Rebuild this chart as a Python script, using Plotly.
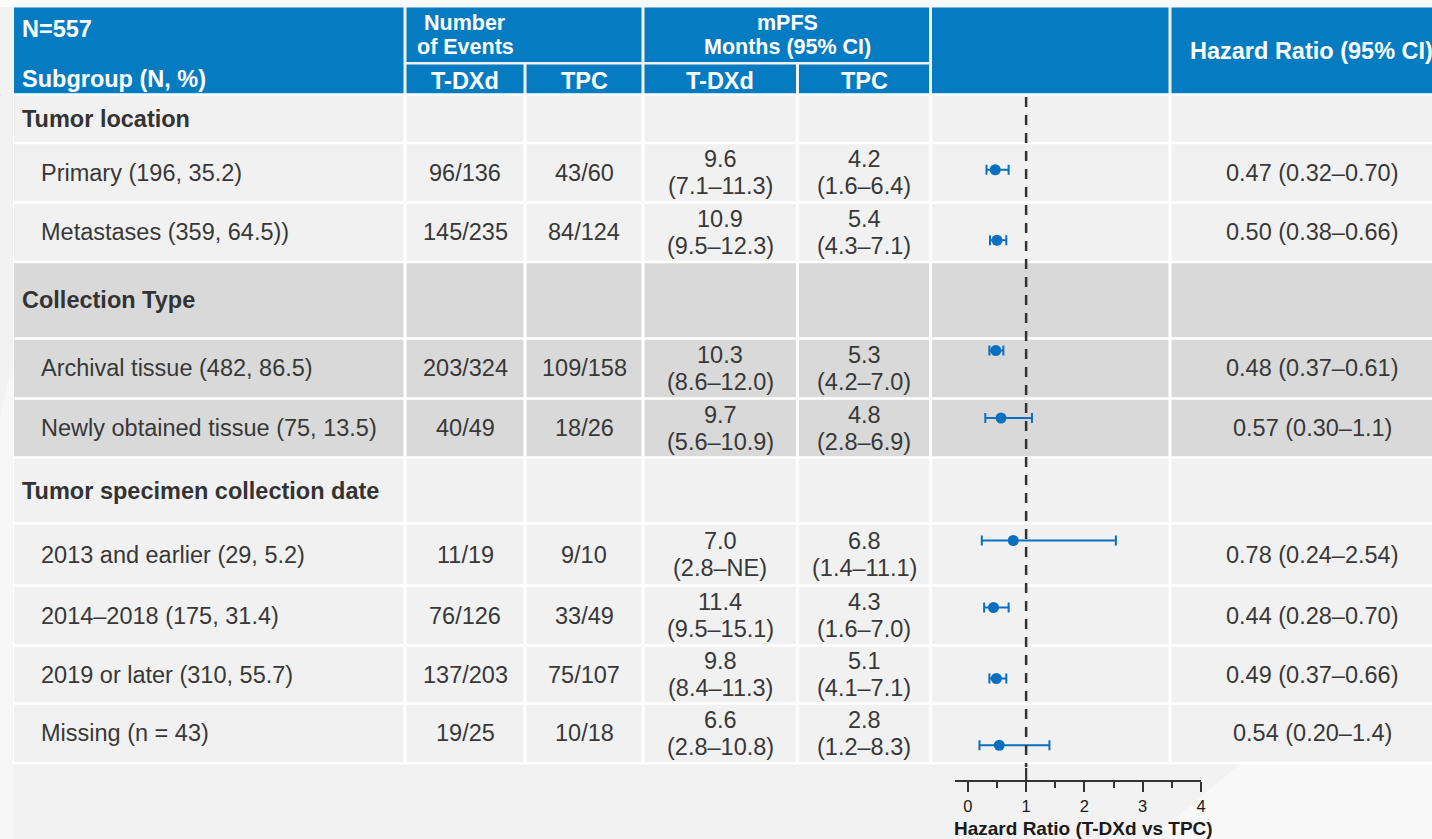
import plotly.graph_objects as go

# ---- data -------------------------------------------------------------
row_labels = [
    "Tumor location",
    "Primary (196, 35.2)",
    "Metastases (359, 64.5))",
    "Collection Type",
    "Archival tissue (482, 86.5)",
    "Newly obtained tissue (75, 13.5)",
    "Tumor specimen collection date",
    "2013 and earlier (29, 5.2)",
    "2014\u20132018 (175, 31.4)",
    "2019 or later (310, 55.7)",
    "Missing (n = 43)",
]
is_group = [True, False, False, True, False, False, True, False, False, False, False]

events_tdxd = ["", "96/136", "145/235", "", "203/324", "40/49", "", "11/19", "76/126", "137/203", "19/25"]
events_tpc = ["", "43/60", "84/124", "", "109/158", "18/26", "", "9/10", "33/49", "75/107", "10/18"]

mpfs_tdxd = ["", "9.6", "10.9", "", "10.3", "9.7", "", "7.0", "11.4", "9.8", "6.6"]
mpfs_tdxd_ci = ["", "7.1\u201311.3", "9.5\u201312.3", "", "8.6\u201312.0", "5.6\u201310.9", "",
                "2.8\u2013NE", "9.5\u201315.1", "8.4\u201311.3", "2.8\u201310.8"]
mpfs_tpc = ["", "4.2", "5.4", "", "5.3", "4.8", "", "6.8", "4.3", "5.1", "2.8"]
mpfs_tpc_ci = ["", "1.6\u20136.4", "4.3\u20137.1", "", "4.2\u20137.0", "2.8\u20136.9", "",
               "1.4\u201311.1", "1.6\u20137.0", "4.1\u20137.1", "1.2\u20138.3"]

hr = ["", "0.47", "0.50", "", "0.48", "0.57", "", "0.78", "0.44", "0.49", "0.54"]
hr_low = ["", "0.32", "0.38", "", "0.37", "0.30", "", "0.24", "0.28", "0.37", "0.20"]
hr_high = ["", "0.70", "0.66", "", "0.61", "1.1", "", "2.54", "0.70", "0.66", "1.4"]

hr_ticks = [0, 1, 2, 3, 4]

# ---- layout helpers (pixel -> paper) ----------------------------------
W, H = 1432, 839


def px(x):
    return x / W


def py(y):
    return 1 - y / H


BLUE = "#057cc2"
LIGHT = "#f1f1f1"
DARK = "#d9d9d9"
TEXT = "#383838"
FONT = "Liberation Sans, Arial, sans-serif"
FS = 23.5

# row separators (pixel y) and column edges (pixel x)
row_edges = [94.5, 143, 202.5, 262, 338.5, 398.5, 457.5, 523.5, 585.5, 645.5, 703.5, 763]
col_edges = [13, 405, 525, 643, 797.5, 930.5, 1170, 1445]
row_fill = [LIGHT, LIGHT, LIGHT, DARK, DARK, DARK, LIGHT, LIGHT, LIGHT, LIGHT, LIGHT]
# vertical placement of each estimate inside its row
marker_nudge = [0, -3, 8, 0, -18, -10, 0, -14, -8, 4, 12]

shapes = []
annotations = []


def rect(x0, y0, x1, y1, color, layer="below"):
    shapes.append(dict(type="rect", xref="paper", yref="paper",
                       x0=px(x0), x1=px(x1), y0=py(y1), y1=py(y0),
                       fillcolor=color, line=dict(width=0), layer=layer))


def text(x, y, s, size=FS, color=TEXT, bold=False, anchor="center"):
    annotations.append(dict(xref="paper", yref="paper", x=px(x), y=py(y),
                            text=f"<b>{s}</b>" if bold else s, showarrow=False,
                            xanchor=anchor, yanchor="middle", borderpad=0,
                            font=dict(family=FONT, size=size, color=color)))


# page background facets
rect(0, 0, W, 7, "#fcfcfc")
shapes.append(dict(type="path", xref="paper", yref="paper",
                   path=f"M {px(1150)} {py(839)} L {px(1240)} {py(764)} L {px(1432)} {py(764)} "
                        f"L {px(1432)} {py(839)} Z",
                   fillcolor="#f8f8f8", line=dict(width=0), layer="below"))
shapes.append(dict(type="path", xref="paper", yref="paper",
                   path=f"M {px(0)} {py(839)} L {px(0)} {py(420)} L {px(13)} {py(360)} "
                        f"L {px(13)} {py(839)} Z",
                   fillcolor="#f7f7f7", line=dict(width=0), layer="below"))

# table white backing (gaps between cells)
rect(13, 93, 1445, 764.5, "#ffffff")

# header cells
g = 1.5
rect(14, 7.5, col_edges[1] - g, 93.3, BLUE)
rect(col_edges[1] + g, 7.5, col_edges[3] - g, 62, BLUE)
rect(col_edges[3] + g, 7.5, col_edges[5] - g, 62, BLUE)
for i in range(1, 5):
    rect(col_edges[i] + g, 64.5, col_edges[i + 1] - g, 93.3, BLUE)
rect(col_edges[5] + g, 7.5, col_edges[6] - g, 93.3, BLUE)
rect(col_edges[6] + g, 7.5, col_edges[7], 93.3, BLUE)

# body cells
for r in range(len(row_labels)):
    y0, y1 = row_edges[r] + 1.3, row_edges[r + 1] - 1.3
    for c in range(len(col_edges) - 1):
        x0 = 14 if c == 0 else col_edges[c] + g
        x1 = col_edges[c + 1] - g if c < len(col_edges) - 2 else col_edges[c + 1]
        rect(x0, y0, x1, y1, row_fill[r])

# header text
WHITE = "#ffffff"
HS2 = 21.5  # two-line group headers
text(21, 29, "N=557", color=WHITE, bold=True, anchor="left")
text(21, 79, "Subgroup (N, %)", color=WHITE, bold=True, anchor="left")
text(465, 23, "Number", size=HS2, color=WHITE, bold=True)
text(465, 47, "of Events", size=HS2, color=WHITE, bold=True)
text(787, 23, "mPFS", size=HS2, color=WHITE, bold=True)
text(787, 47, "Months (95% CI)", size=HS2, color=WHITE, bold=True)
for xc, s in [(465, "T-DXd"), (584, "TPC"), (720, "T-DXd"), (864, "TPC")]:
    text(xc, 81, s, color=WHITE, bold=True)
text(1311, 51, "Hazard Ratio (95% CI)", color=WHITE, bold=True)

# body text
row_mid = [(row_edges[i] + row_edges[i + 1]) / 2 for i in range(len(row_labels))]
for r, label in enumerate(row_labels):
    ym = row_mid[r]
    if is_group[r]:
        text(21, ym, label, color="#333333", bold=True, anchor="left")
        continue
    text(40, ym, label, anchor="left")
    text(465, ym, events_tdxd[r])
    text(584, ym, events_tpc[r])
    text(720, ym - 13.5, mpfs_tdxd[r])
    text(720, ym + 13.5, f"({mpfs_tdxd_ci[r]})")
    text(864, ym - 13.5, mpfs_tpc[r])
    text(864, ym + 13.5, f"({mpfs_tpc_ci[r]})")
    text(1312, ym, f"{hr[r]} ({hr_low[r]}\u2013{hr_high[r]})")

# forest plot
idx = [i for i in range(len(row_labels)) if hr[i]]
xs = [float(hr[i]) for i in idx]
lo = [float(hr_low[i]) for i in idx]
hi = [float(hr_high[i]) for i in idx]
ys = [row_mid[i] + marker_nudge[i] for i in idx]

AXIS_Y = 781
fig = go.Figure()
fig.add_trace(go.Scatter(
    x=xs, y=ys, mode="markers",
    marker=dict(color="#0a6fbf", size=11),
    error_x=dict(type="data", symmetric=False,
                 array=[h - x for h, x in zip(hi, xs)],
                 arrayminus=[x - l for x, l in zip(xs, lo)],
                 color="#0a6fbf", thickness=2, width=5),
    hoverinfo="skip", showlegend=False,
))

# reference line at HR = 1
shapes.append(dict(type="line", xref="x", yref="y", x0=1, x1=1, y0=97, y1=AXIS_Y - 14,
                   line=dict(color="#333333", width=2.5, dash="10px,8px"), layer="above"))
shapes.append(dict(type="line", xref="x", yref="y", x0=1, x1=1, y0=AXIS_Y - 13, y1=AXIS_Y,
                   line=dict(color="#333333", width=2.2), layer="above"))

text(1083, 828.5, "Hazard Ratio (T-DXd vs TPC)", size=19, color="#1a1a1a", bold=True)

fig.update_layout(
    width=W, height=H,
    margin=dict(l=0, r=0, t=0, b=0, autoexpand=False),
    paper_bgcolor="#f2f2f2",
    plot_bgcolor="rgba(0,0,0,0)",
    shapes=shapes,
    annotations=annotations,
    xaxis=dict(
        domain=[px(955), px(1201)],
        range=[-0.22, 4.0],
        anchor="free", position=py(AXIS_Y),
        showgrid=False, zeroline=False,
        showline=True, linecolor="#333333", linewidth=2.2,
        tickmode="array", tickvals=hr_ticks,
        ticks="outside", ticklen=10, tickwidth=2.2, tickcolor="#333333",
        minor=dict(dtick=0.5, tick0=0, ticks="outside", ticklen=6,
                   tickwidth=2, tickcolor="#333333", showgrid=False),
        tickfont=dict(family=FONT, size=16.5, color="#1a1a1a"),
        fixedrange=True,
    ),
    yaxis=dict(domain=[0, 1], range=[H, 0], visible=False, fixedrange=True),
)

fig.write_html("out.html")
